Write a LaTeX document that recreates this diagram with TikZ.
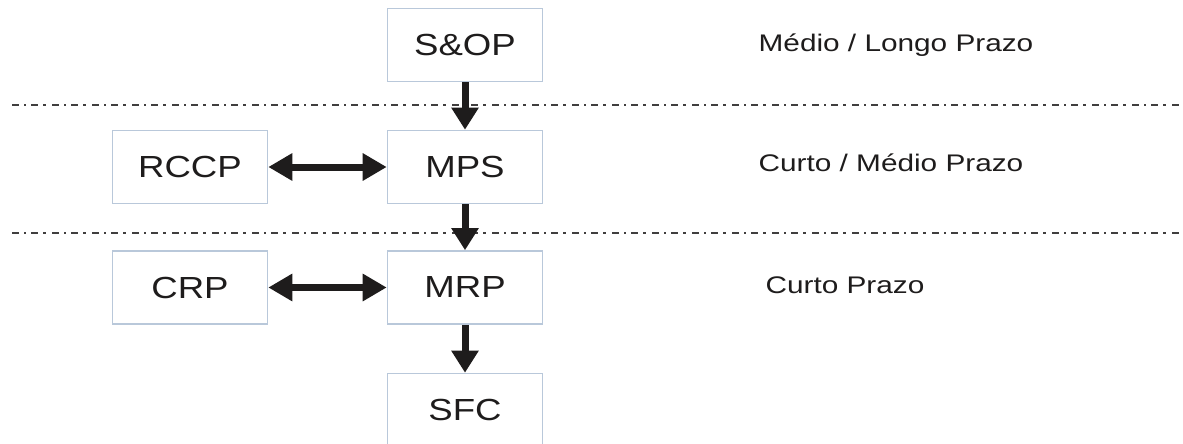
\documentclass[tikz,border=0pt]{standalone}
\usepackage{fontspec}
\setmainfont{Liberation Sans}
\newfontfamily\boxfont{Liberation Sans}[FakeStretch=1.2]
\newfontfamily\labfont{Liberation Sans}[FakeStretch=1.24]
\usetikzlibrary{arrows.meta}
\definecolor{boxline}{RGB}{185,200,218}
\definecolor{ink}{RGB}{30,28,28}
\tikzset{
  stage/.style={draw=boxline, line width=1.6pt, minimum width=155pt, minimum height=73pt,
     inner sep=0pt, text=ink, font=\boxfont\fontsize{30.5}{34}\selectfont},
  period/.style={text=ink, inner sep=0pt, font=\labfont\fontsize{24}{28}\selectfont},
  flow/.style={draw=ink, line width=7pt, -{Triangle[width=26pt,length=22pt]}},
  both/.style={draw=ink, line width=7pt, {Triangle[width=26pt,length=24pt]}-{Triangle[width=26pt,length=24pt]}},
  sep/.style={draw=ink!85, line width=1.4pt, dash pattern=on 7pt off 5pt on 2pt off 5pt on 7pt off 5pt on 3pt off 6pt}
}
\begin{document}
\begin{tikzpicture}[x=1pt,y=-1pt]
\useasboundingbox (0,0) rectangle (1183,444);
\clip (0,0) rectangle (1183,444);
\fill[white] (0,0) rectangle (1183,444);
% separators
\coordinate (s1a) at (12,105); \coordinate (s1b) at (1183,105);
\coordinate (s2a) at (12,233); \coordinate (s2b) at (1183,233);
\draw[sep] (s1a) -- (s1b);
\draw[sep] (s2a) -- (s2b);
% nodes
\node[stage] (sop) at (465,45) {S\&OP};
\node[stage] (mps) at (465,167) {MPS};
\node[stage] (rccp) at (190,167) {RCCP};
\node[stage] (mrp) at (465,287.5) {MRP};
\node[stage] (crp) at (190,287.5) {CRP};
\node[stage] (sfc) at (465,410) {SFC};
% labels
\node[period] (l1) at (896,45) {Médio / Longo Prazo};
\node[period] (l2) at (891,163) {Curto / Médio Prazo};
\node[period] (l3) at (845,285) {Curto Prazo};
% arrows
\draw[flow] (sop.south) -- (mps.north);
\draw[flow] (mps.south) -- (mrp.north);
\draw[flow] (mrp.south) -- (sfc.north);
\draw[both] (rccp.east) -- (mps.west);
\draw[both] (crp.east) -- (mrp.west);
\end{tikzpicture}
\end{document}
